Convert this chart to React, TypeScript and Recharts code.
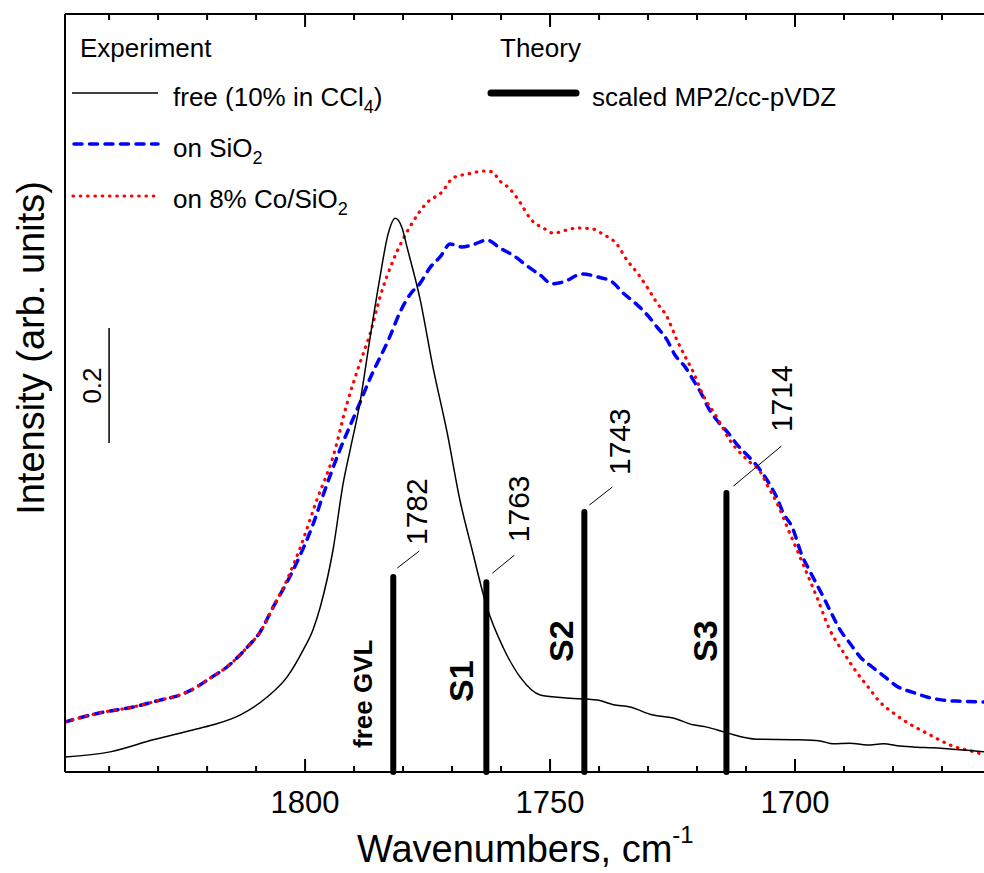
import React from 'react';
import { LineChart, Line, XAxis, YAxis, ReferenceLine, Legend } from 'recharts';

const FONT = '"Liberation Sans", Arial, sans-serif';

// free GVL, 10% in CCl4 (black solid)
const freeWn = [1849.0, 1839.8, 1831.0, 1822.9, 1818.8, 1813.3, 1807.8, 1803.7, 1800.4, 1798.4, 1796.9, 1794.3, 1792.2, 1790.8, 1788.8, 1786.7, 1784.7, 1783.1, 1781.6, 1780.2, 1779.2, 1776.5, 1773.9, 1771.0, 1768.4, 1765.9, 1762.9, 1759.6, 1756.1, 1752.0, 1747.3, 1740.4, 1737.1, 1733.7, 1729.0, 1724.9, 1720.8, 1718.0, 1713.9, 1707.8, 1699.6, 1694.9, 1692.2, 1688.8, 1685.3, 1682.0, 1678.6, 1675.1, 1671.8, 1668.4, 1664.9, 1661.4, 1650.0];
const freeInt = [0.026, 0.035, 0.056, 0.073, 0.082, 0.099, 0.130, 0.165, 0.212, 0.247, 0.287, 0.386, 0.503, 0.560, 0.642, 0.757, 0.861, 0.934, 0.963, 0.946, 0.913, 0.821, 0.704, 0.590, 0.473, 0.386, 0.287, 0.217, 0.165, 0.134, 0.129, 0.125, 0.117, 0.113, 0.099, 0.094, 0.082, 0.078, 0.068, 0.057, 0.056, 0.054, 0.049, 0.050, 0.047, 0.049, 0.045, 0.043, 0.042, 0.040, 0.038, 0.035, 0.031];

// on SiO2 (blue dashed)
const sioWn = [1849.0, 1841.8, 1835.1, 1829.6, 1825.5, 1822.9, 1819.4, 1815.9, 1811.8, 1809.2, 1806.5, 1803.7, 1801.0, 1798.4, 1796.3, 1792.9, 1789.4, 1786.7, 1782.7, 1780.6, 1778.6, 1776.5, 1774.5, 1772.4, 1770.4, 1768.0, 1765.7, 1762.9, 1760.2, 1757.1, 1754.7, 1752.0, 1749.6, 1747.3, 1743.5, 1740.4, 1737.3, 1735.1, 1732.7, 1730.2, 1728.2, 1726.1, 1724.5, 1722.4, 1720.8, 1719.0, 1717.8, 1715.7, 1713.7, 1711.6, 1709.2, 1707.1, 1705.1, 1703.7, 1702.4, 1700.6, 1698.6, 1696.9, 1695.3, 1693.9, 1692.4, 1690.8, 1688.8, 1686.7, 1684.3, 1681.6, 1679.0, 1676.1, 1672.9, 1669.8, 1666.3, 1662.9, 1650.0];
const sioInt = [0.087, 0.103, 0.113, 0.125, 0.134, 0.144, 0.163, 0.183, 0.217, 0.243, 0.287, 0.330, 0.377, 0.430, 0.482, 0.560, 0.630, 0.685, 0.757, 0.800, 0.830, 0.850, 0.877, 0.896, 0.918, 0.913, 0.917, 0.925, 0.911, 0.896, 0.880, 0.864, 0.849, 0.852, 0.866, 0.861, 0.852, 0.833, 0.816, 0.795, 0.774, 0.751, 0.725, 0.704, 0.682, 0.656, 0.635, 0.609, 0.590, 0.567, 0.546, 0.525, 0.499, 0.477, 0.450, 0.426, 0.377, 0.348, 0.322, 0.299, 0.273, 0.247, 0.224, 0.200, 0.183, 0.165, 0.148, 0.139, 0.130, 0.125, 0.123, 0.122, 0.120];

// on 8% Co/SiO2 (red dotted)
const coWn = [1849.0, 1841.8, 1835.1, 1829.6, 1825.5, 1822.9, 1819.4, 1815.9, 1811.8, 1809.2, 1806.5, 1803.7, 1801.0, 1797.6, 1794.3, 1791.4, 1788.8, 1786.7, 1784.7, 1782.0, 1778.6, 1775.1, 1772.0, 1769.8, 1766.7, 1763.3, 1761.6, 1760.6, 1758.2, 1756.1, 1754.1, 1751.0, 1749.4, 1746.3, 1744.5, 1741.2, 1739.4, 1736.3, 1734.3, 1732.2, 1730.2, 1728.2, 1726.1, 1724.1, 1722.4, 1720.8, 1718.8, 1715.9, 1713.3, 1709.8, 1707.1, 1705.5, 1703.7, 1701.6, 1699.6, 1697.6, 1695.5, 1692.9, 1690.2, 1687.3, 1685.1, 1682.7, 1680.0, 1676.9, 1673.9, 1670.8, 1667.8, 1664.3, 1661.4, 1650.0];
const coInt = [0.087, 0.103, 0.113, 0.125, 0.134, 0.144, 0.163, 0.183, 0.217, 0.243, 0.287, 0.334, 0.390, 0.473, 0.548, 0.642, 0.711, 0.763, 0.826, 0.890, 0.948, 0.990, 1.009, 1.033, 1.040, 1.045, 1.043, 1.031, 1.014, 0.990, 0.963, 0.944, 0.937, 0.943, 0.946, 0.944, 0.936, 0.917, 0.890, 0.868, 0.843, 0.816, 0.791, 0.751, 0.722, 0.696, 0.656, 0.616, 0.577, 0.543, 0.522, 0.496, 0.468, 0.426, 0.386, 0.346, 0.303, 0.247, 0.209, 0.172, 0.148, 0.122, 0.103, 0.085, 0.071, 0.057, 0.045, 0.037, 0.030, 0.012];

// scaled MP2/cc-pVDZ sticks
const theoryWn = [1782, 1763, 1743, 1714];
const theoryInt = [0.339, 0.330, 0.452, 0.485];
const theoryNames = ['free GVL', 'S1', 'S2', 'S3'];

const xTicks = [1660, 1670, 1680, 1690, 1700, 1710, 1720, 1730, 1740, 1750, 1760, 1770, 1780, 1790, 1800, 1810, 1820, 1830, 1840];
const majorTicks = [1700, 1750, 1800];

// intensity scale bar
const scaleBarWn = 1840;
const scaleBarFrom = 0.572;
const scaleBarLen = 0.2;

const zip = (xs: number[], ys: number[]) => xs.map((wn, i) => ({ wn, v: ys[i] }));
const freeData = zip(freeWn, freeInt);
const sioData = zip(sioWn, sioInt);
const coData = zip(coWn, coInt);

// label offsets (px) relative to stick top / bottom
const stickLabels = [
  { lead: [4, -9, 26, -26], num: [34, -32], name: [-21, -24], nameSize: 26 },
  { lead: [6, -9, 28, -27], num: [43, -40], name: [-13, -70], nameSize: 34 },
  { lead: [5, -7, 28, -25], num: [46, -37], name: [-11, -110], nameSize: 34 },
  { lead: [7, -7, 55, -47], num: [66, -61], name: [-9, -110], nameSize: 34 },
];

const BottomTick = (props: any) => {
  const { x, y, payload } = props;
  const major = majorTicks.includes(payload.value);
  return (
    <g>
      <line x1={x} x2={x} y1={y} y2={y - (major ? 13 : 6)} stroke="#000" strokeWidth={2} />
      {major && (
        <text x={x} y={y + 41} textAnchor="middle" fontSize={31} fontFamily={FONT} fill="#000">
          {payload.value}
        </text>
      )}
    </g>
  );
};

const TopTick = (props: any) => {
  const { x, y, payload } = props;
  const major = majorTicks.includes(payload.value);
  return <line x1={x} x2={x} y1={y} y2={y + (major ? 13 : 6)} stroke="#000" strokeWidth={2} />;
};

const XTitle = (props: any) => {
  const vb = props.viewBox;
  return (
    <text x={vb.x + 292} y={vb.y + 90} fontSize={38} fontFamily={FONT} fill="#000">
      Wavenumbers, cm<tspan dy={-19} fontSize={24}>-1</tspan>
    </text>
  );
};

const YTitle = (props: any) => {
  const vb = props.viewBox;
  return (
    <text transform={`translate(${vb.x + vb.width - 21},${vb.y + 334}) rotate(-90)`} textAnchor="middle" fontSize={38} fontFamily={FONT} fill="#000">
      Intensity (arb. units)
    </text>
  );
};

const ScaleLabel = (props: any) => {
  const vb = props.viewBox;
  return (
    <text transform={`translate(${vb.x - 8},${vb.y + vb.height / 2}) rotate(-90)`} textAnchor="middle" fontSize={26} fontFamily={FONT} fill="#000">
      0.2
    </text>
  );
};

const stickLabel = (i: number) => (props: any) => {
  const vb = props.viewBox;
  const bx = vb.x;
  const top = vb.y;
  const bottom = vb.y + vb.height;
  const L = stickLabels[i];
  return (
    <g>
      <line x1={bx + L.lead[0]} y1={top + L.lead[1]} x2={bx + L.lead[2]} y2={top + L.lead[3]} stroke="#000" strokeWidth={1} />
      <text transform={`translate(${bx + L.num[0]},${top + L.num[1]}) rotate(-90)`} fontSize={30} fontFamily={FONT} fill="#000">
        {theoryWn[i]}
      </text>
      <text transform={`translate(${bx + L.name[0]},${bottom + L.name[1]}) rotate(-90)`} fontSize={L.nameSize} fontWeight="bold" fontFamily={FONT} fill="#000">
        {theoryNames[i]}
      </text>
    </g>
  );
};

const renderLegend = () => (
  <svg width={984} height={225} style={{ display: 'block' }} fontFamily={FONT}>
    <text x={80} y={57} fontSize={26}>Experiment</text>
    <line x1={72} x2={158} y1={93} y2={93} stroke="#000" strokeWidth={1.5} />
    <text x={173} y={106} fontSize={26}>
      free (10% in CCl<tspan dy={7} fontSize={18}>4</tspan><tspan dy={-7}>)</tspan>
    </text>
    <line x1={74} x2={158} y1={144} y2={144} stroke="#0000ff" strokeWidth={3.5} strokeDasharray="8 7.5" strokeLinecap="round" />
    <text x={173} y={157} fontSize={26}>
      on SiO<tspan dy={7} fontSize={18}>2</tspan>
    </text>
    <line x1={73} x2={158} y1={196} y2={196} stroke="#ff0000" strokeWidth={3.2} strokeDasharray="0.5 6.8" strokeLinecap="round" />
    <text x={173} y={208} fontSize={26}>
      on 8% Co/SiO<tspan dy={7} fontSize={18}>2</tspan>
    </text>
    <text x={500} y={57} fontSize={26}>Theory</text>
    <line x1={491} x2={576} y1={93} y2={93} stroke="#000" strokeWidth={7} strokeLinecap="round" />
    <text x={592} y={106} fontSize={26}>scaled MP2/cc-pVDZ</text>
  </svg>
);

export default function App() {
  return (
    <div style={{ position: 'absolute', left: 0, top: 0, width: 984, height: 873, overflow: 'hidden', background: '#fff', fontFamily: FONT }}>
      <LineChart width={1060} height={873} margin={{ top: 13, right: 20, bottom: 100, left: 64 }}>
        <XAxis
          dataKey="wn"
          type="number"
          domain={[1650, 1849]}
          reversed
          allowDataOverflow
          ticks={xTicks}
          interval={0}
          tick={BottomTick}
          tickLine={false}
          tickSize={0}
          tickMargin={0}
          height={1}
          axisLine={{ stroke: '#000', strokeWidth: 2 }}
          label={XTitle}
        />
        <XAxis
          xAxisId="top"
          orientation="top"
          dataKey="wn"
          type="number"
          domain={[1650, 1849]}
          reversed
          allowDataOverflow
          ticks={xTicks}
          interval={0}
          tick={TopTick}
          tickLine={false}
          tickSize={0}
          tickMargin={0}
          height={1}
          axisLine={{ stroke: '#000', strokeWidth: 2 }}
        />
        <YAxis
          type="number"
          domain={[0, 1.318]}
          allowDataOverflow
          width={1}
          tick={false}
          tickLine={false}
          axisLine={{ stroke: '#000', strokeWidth: 2 }}
          label={YTitle}
        />
        <Legend
          content={renderLegend}
          layout="horizontal"
          verticalAlign="middle"
          align="center"
          wrapperStyle={{ left: 0, top: 0, width: 984, height: 225 }}
        />
        <Line data={sioData} dataKey="v" name="on SiO2" type="monotone" stroke="#0000ff" strokeWidth={3.5} strokeDasharray="8 7.5" strokeLinecap="round" dot={false} isAnimationActive={false} />
        <Line data={coData} dataKey="v" name="on 8% Co/SiO2" type="monotone" stroke="#ff0000" strokeWidth={3.2} strokeDasharray="0.5 6.8" strokeLinecap="round" dot={false} isAnimationActive={false} />
        <Line data={freeData} dataKey="v" name="free (10% in CCl4)" type="monotone" stroke="#000" strokeWidth={1.5} dot={false} isAnimationActive={false} />
        {theoryWn.map((wn, i) => (
          <ReferenceLine
            key={wn}
            segment={[{ x: wn, y: 0 }, { x: wn, y: theoryInt[i] }]}
            stroke="#000"
            strokeWidth={6}
            strokeLinecap="round"
            label={stickLabel(i)}
          />
        ))}
        <ReferenceLine
          segment={[{ x: scaleBarWn, y: scaleBarFrom }, { x: scaleBarWn, y: scaleBarFrom + scaleBarLen }]}
          stroke="#000"
          strokeWidth={1.5}
          label={ScaleLabel}
        />
      </LineChart>
    </div>
  );
}
